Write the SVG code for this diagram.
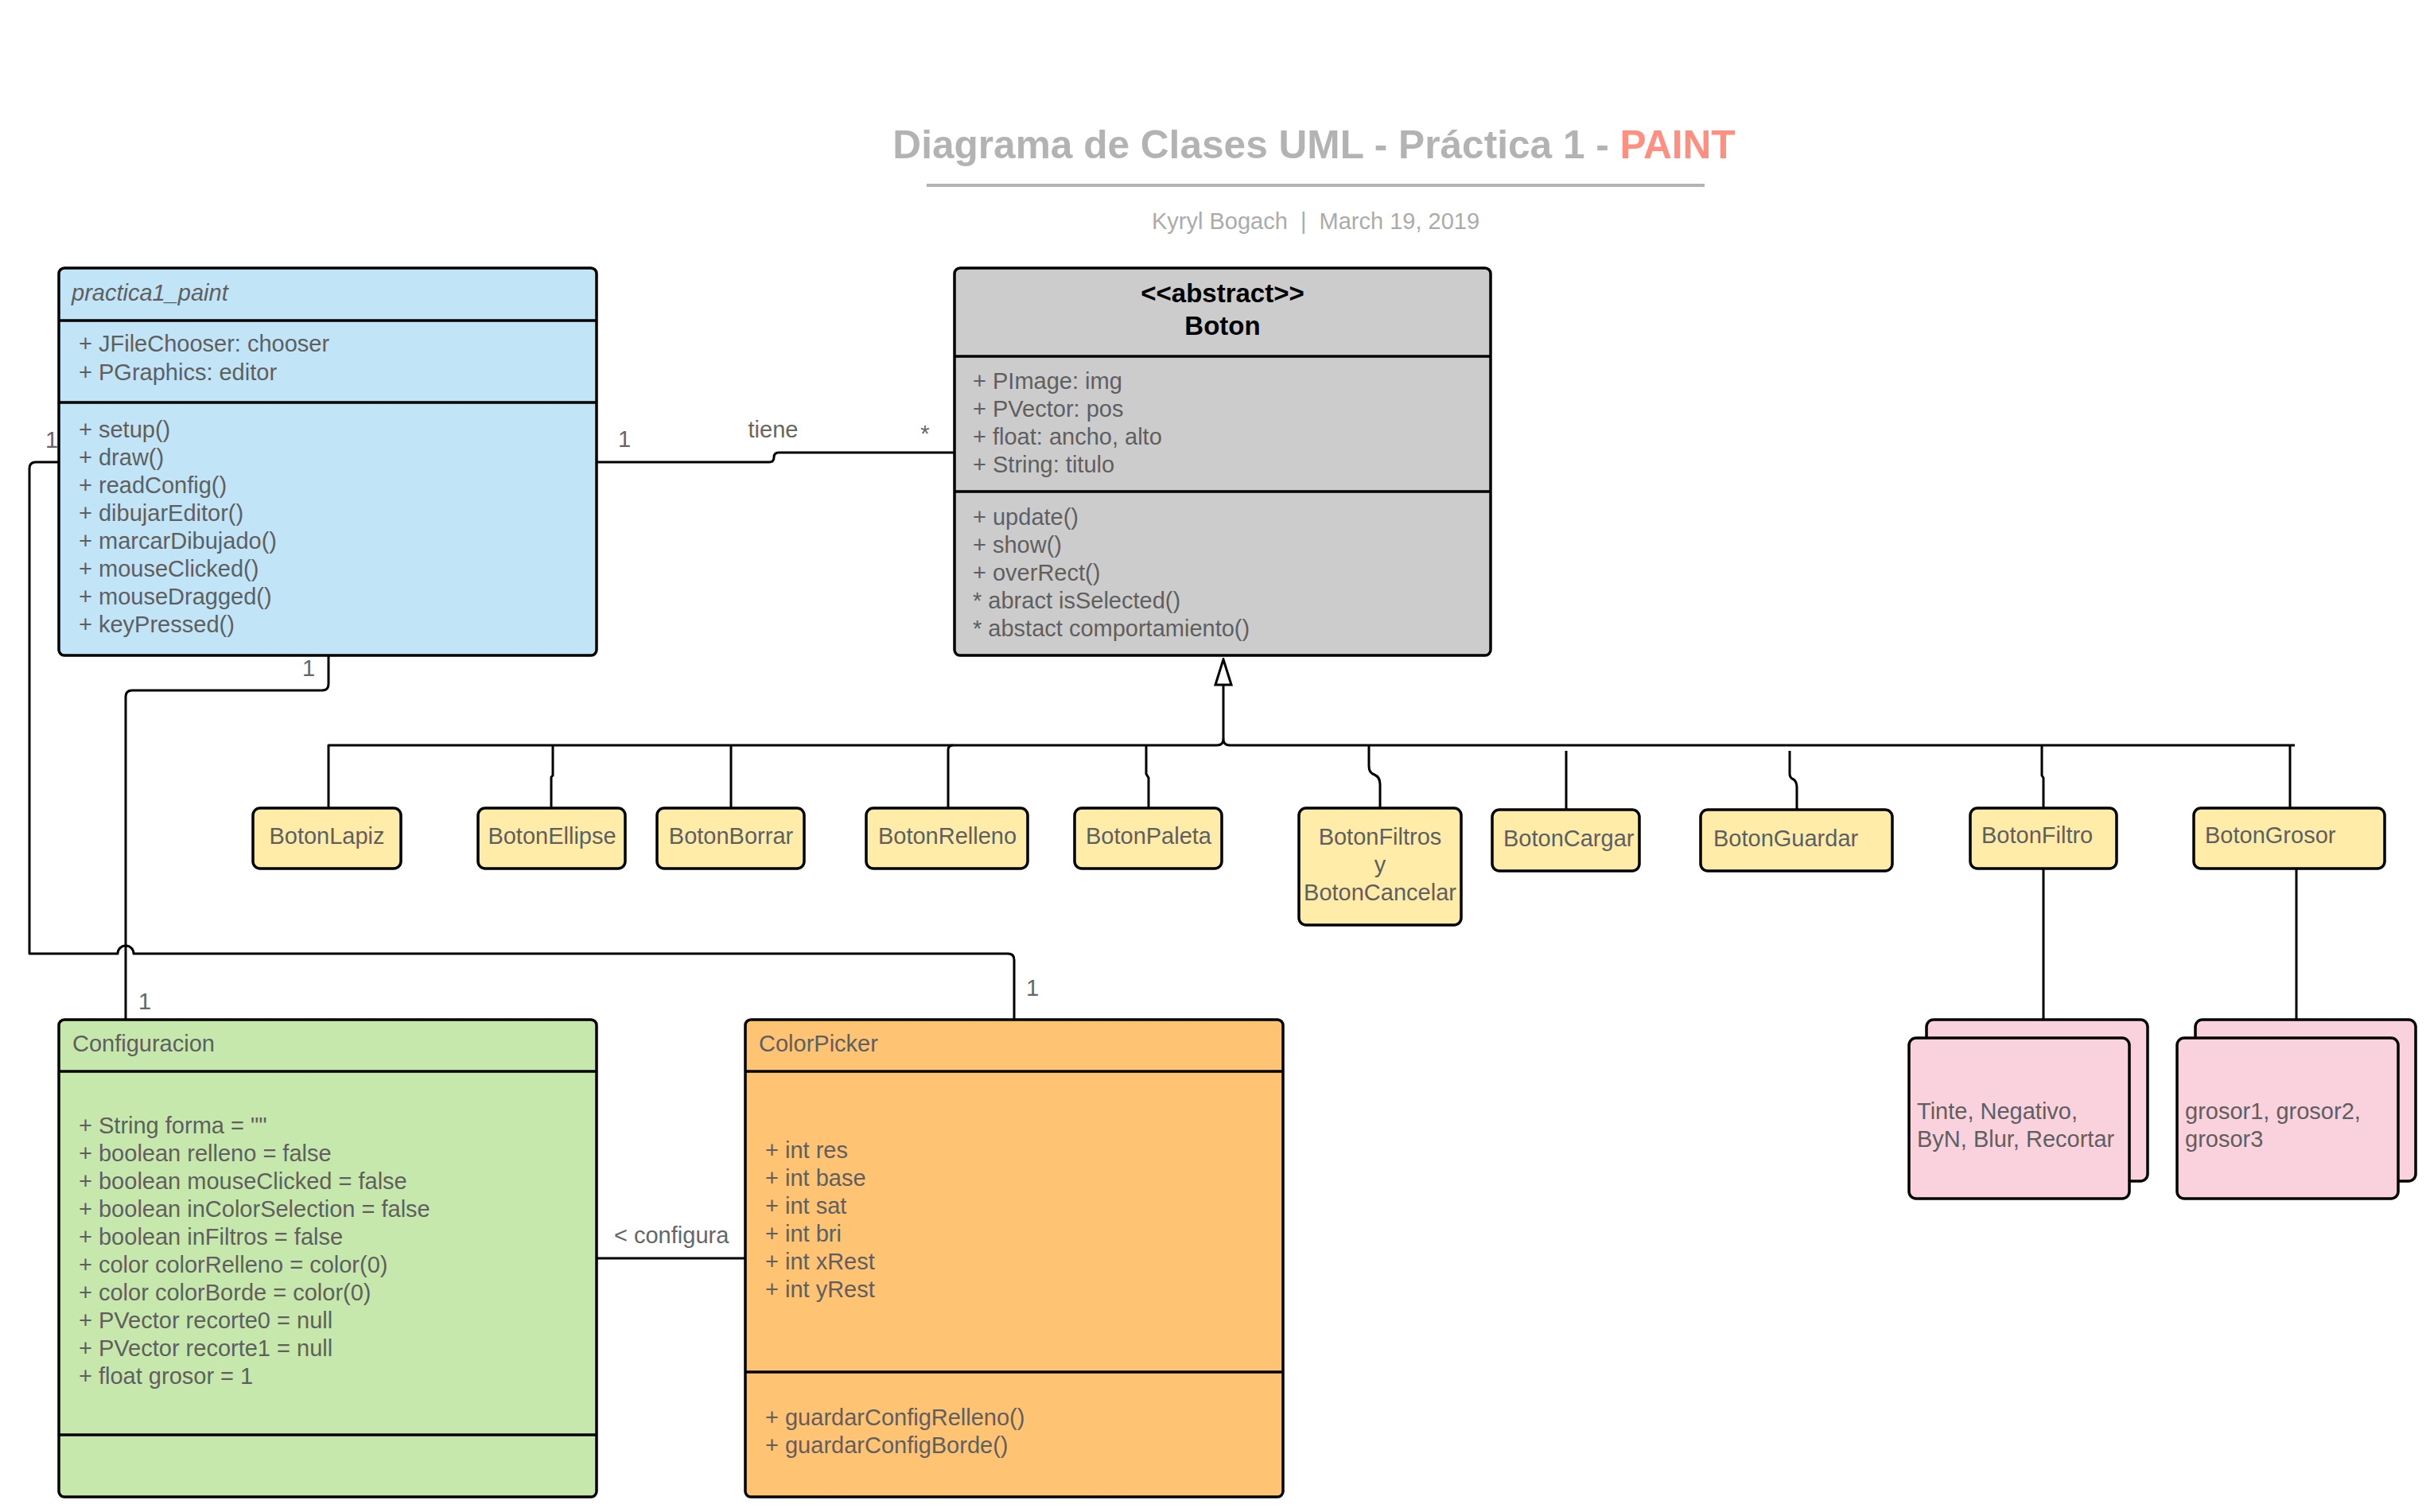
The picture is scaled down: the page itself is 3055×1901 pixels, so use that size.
<svg xmlns="http://www.w3.org/2000/svg" width="3055" height="1901" viewBox="0 0 3055 1901">
<style>
text{font-family:"Liberation Sans",Arial,sans-serif;}
.t{font-size:29px;fill:#5f5f5f;}
.it{font-style:italic;}
.c{text-anchor:middle;}
.bt{font-size:33px;font-weight:bold;fill:#000;text-anchor:middle;}
.lbl{font-size:29px;fill:#666;}
.box{stroke:#000;stroke-width:3.5;}
.div{stroke:#000;stroke-width:3.5;}
.ln{fill:none;stroke:#000;stroke-width:3;stroke-linejoin:round;}
.blue{fill:#c1e4f7;}
.gray{fill:#cccccc;}
.yel{fill:#ffeca9;}
.grn{fill:#c7e8ac;}
.org{fill:#ffc374;}
.pink{fill:#f9d2de;}
</style>
<defs>
<marker id="gen" markerUnits="userSpaceOnUse" viewBox="0 0 36 24" refX="2" refY="12" markerWidth="36" markerHeight="24" orient="auto">
<path d="M2,2 L34,12 L2,22 Z" fill="#fff" stroke="#000" stroke-width="3"/>
</marker>
</defs>
<rect width="3055" height="1901" fill="#fff"/>

<g id="title">
<text x="1652" y="199" text-anchor="middle" font-size="49.6" font-weight="bold" fill="#b3b3b3">Diagrama de Clases UML - Práctica 1 - <tspan fill="#ff8f80">PAINT</tspan></text>
<line x1="1165" y1="233" x2="2143" y2="233" stroke="#b3b3b3" stroke-width="4"/>
<text x="1654" y="288" text-anchor="middle" font-size="29" fill="#ababab" xml:space="preserve">Kyryl Bogach  |  March 19, 2019</text>
</g>

<g id="connectors">
<path class="ln" d="M750 581 H967 Q973 581 973 575 Q973 569 979 569 H1200"/>
<path class="ln" d="M74 581 H45 Q37 581 37 589 V1199 H148 A10 10 0 0 1 168 1199 H1267 Q1275 1199 1275 1207 V1282"/>
<path class="ln" d="M413 824 V860 Q413 868 405 868 H166 Q158 868 158 876 V1282"/>
<path class="ln" d="M750 1582 H937"/>
<path class="ln" d="M413 1016 V937 H1530 Q1538 937 1538 929 Q1538 937 1546 937 H2885"/>
<path class="ln" d="M1538 929 V861" marker-end="url(#gen)"/>
<path class="ln" d="M695 937 V975 L693 977 V1016"/>
<path class="ln" d="M919 937 V1016"/>
<path class="ln" d="M1192 1016 V943 Q1192 937 1198 937"/>
<path class="ln" d="M1441 937 V973 L1444 978 V1016"/>
<path class="ln" d="M1721 937 V963 Q1721 972 1728 974 Q1735 977 1735 986 V1016"/>
<path class="ln" d="M1969 944 V1018"/>
<path class="ln" d="M2250 944 V973 Q2250 978 2255 980 Q2259 983 2259 990 V1018"/>
<path class="ln" d="M2567 937 V975 L2569 978 V1016"/>
<path class="ln" d="M2879 937 V1016"/>
<path class="ln" d="M2569 1092 V1282"/>
<path class="ln" d="M2887 1092 V1282"/>
<text class="lbl" x="65" y="563" text-anchor="middle">1</text>
<text class="lbl" x="785" y="562" text-anchor="middle">1</text>
<text class="lbl" x="972" y="550" text-anchor="middle">tiene</text>
<text class="lbl" x="1163" y="555" text-anchor="middle">*</text>
<text class="lbl" x="388" y="850" text-anchor="middle">1</text>
<text class="lbl" x="182" y="1269" text-anchor="middle">1</text>
<text class="lbl" x="1298" y="1252" text-anchor="middle">1</text>
<text class="lbl" x="772" y="1563">&lt; configura</text>
</g>

<g id="practica1_paint">
<rect class="box blue" x="74" y="337" width="676" height="487" rx="7"/>
<line class="div" x1="74" y1="403" x2="750" y2="403"/>
<line class="div" x1="74" y1="506" x2="750" y2="506"/>
<text class="t it" x="90" y="378">practica1_paint</text>
<text class="t" x="99" y="442">+ JFileChooser: chooser</text>
<text class="t" x="99" y="478">+ PGraphics: editor</text>
<text class="t" x="99" y="550">+ setup()</text>
<text class="t" x="99" y="585">+ draw()</text>
<text class="t" x="99" y="620">+ readConfig()</text>
<text class="t" x="99" y="655">+ dibujarEditor()</text>
<text class="t" x="99" y="690">+ marcarDibujado()</text>
<text class="t" x="99" y="725">+ mouseClicked()</text>
<text class="t" x="99" y="760">+ mouseDragged()</text>
<text class="t" x="99" y="795">+ keyPressed()</text>
</g>

<g id="Boton">
<rect class="box gray" x="1200" y="337" width="674" height="487" rx="7"/>
<line class="div" x1="1200" y1="448" x2="1874" y2="448"/>
<line class="div" x1="1200" y1="618" x2="1874" y2="618"/>
<text class="bt" x="1537" y="380">&lt;&lt;abstract&gt;&gt;</text>
<text class="bt" x="1537" y="421">Boton</text>
<text class="t" x="1223" y="489">+ PImage: img</text>
<text class="t" x="1223" y="524">+ PVector: pos</text>
<text class="t" x="1223" y="559">+ float: ancho, alto</text>
<text class="t" x="1223" y="594">+ String: titulo</text>
<text class="t" x="1223" y="660">+ update()</text>
<text class="t" x="1223" y="695">+ show()</text>
<text class="t" x="1223" y="730">+ overRect()</text>
<text class="t" x="1223" y="765">* abract isSelected()</text>
<text class="t" x="1223" y="800">* abstact comportamiento()</text>
</g>

<g id="BotonLapiz">
<rect class="box yel" x="318" y="1016" width="186" height="76" rx="9"/>
<text class="t c" x="411" y="1061">BotonLapiz</text>
</g>
<g id="BotonEllipse">
<rect class="box yel" x="601" y="1016" width="185" height="76" rx="9"/>
<text class="t c" x="694" y="1061">BotonEllipse</text>
</g>
<g id="BotonBorrar">
<rect class="box yel" x="826" y="1016" width="185" height="76" rx="9"/>
<text class="t c" x="919" y="1061">BotonBorrar</text>
</g>
<g id="BotonRelleno">
<rect class="box yel" x="1089" y="1016" width="203" height="76" rx="9"/>
<text class="t c" x="1191" y="1061">BotonRelleno</text>
</g>
<g id="BotonPaleta">
<rect class="box yel" x="1351" y="1016" width="185" height="76" rx="9"/>
<text class="t c" x="1444" y="1061">BotonPaleta</text>
</g>
<g id="BotonFiltrosYCancelar">
<rect class="box yel" x="1633" y="1016" width="204" height="147" rx="9"/>
<text class="t c" x="1735" y="1062">BotonFiltros</text>
<text class="t c" x="1735" y="1097">y</text>
<text class="t c" x="1735" y="1132">BotonCancelar</text>
</g>
<g id="BotonCargar">
<rect class="box yel" x="1876" y="1018" width="185" height="77" rx="9"/>
<text class="t" x="1890" y="1064">BotonCargar</text>
</g>
<g id="BotonGuardar">
<rect class="box yel" x="2138" y="1018" width="241" height="77" rx="9"/>
<text class="t" x="2154" y="1064">BotonGuardar</text>
</g>
<g id="BotonFiltro">
<rect class="box yel" x="2477" y="1016" width="184" height="76" rx="9"/>
<text class="t" x="2491" y="1060">BotonFiltro</text>
</g>
<g id="BotonGrosor">
<rect class="box yel" x="2758" y="1016" width="240" height="76" rx="9"/>
<text class="t" x="2772" y="1060">BotonGrosor</text>
</g>

<g id="Filtros">
<rect class="box pink" x="2422" y="1282" width="278" height="203" rx="9"/>
<rect class="box pink" x="2400" y="1305" width="277" height="202" rx="9"/>
<text class="t" x="2410" y="1407">Tinte, Negativo,</text>
<text class="t" x="2410" y="1442">ByN, Blur, Recortar</text>
</g>
<g id="Grosores">
<rect class="box pink" x="2760" y="1282" width="277" height="203" rx="9"/>
<rect class="box pink" x="2737" y="1305" width="278" height="202" rx="9"/>
<text class="t" x="2747" y="1407">grosor1, grosor2,</text>
<text class="t" x="2747" y="1442">grosor3</text>
</g>

<g id="Configuracion">
<rect class="box grn" x="74" y="1282" width="676" height="600" rx="7"/>
<line class="div" x1="74" y1="1347" x2="750" y2="1347"/>
<line class="div" x1="74" y1="1804" x2="750" y2="1804"/>
<text class="t" x="91" y="1322">Configuracion</text>
<text class="t" x="99" y="1425">+ String forma = ""</text>
<text class="t" x="99" y="1460">+ boolean relleno = false</text>
<text class="t" x="99" y="1495">+ boolean mouseClicked = false</text>
<text class="t" x="99" y="1530">+ boolean inColorSelection = false</text>
<text class="t" x="99" y="1565">+ boolean inFiltros = false</text>
<text class="t" x="99" y="1600">+ color colorRelleno = color(0)</text>
<text class="t" x="99" y="1635">+ color colorBorde = color(0)</text>
<text class="t" x="99" y="1670">+ PVector recorte0 = null</text>
<text class="t" x="99" y="1705">+ PVector recorte1 = null</text>
<text class="t" x="99" y="1740">+ float grosor = 1</text>
</g>

<g id="ColorPicker">
<rect class="box org" x="937" y="1282" width="676" height="600" rx="7"/>
<line class="div" x1="937" y1="1347" x2="1613" y2="1347"/>
<line class="div" x1="937" y1="1725" x2="1613" y2="1725"/>
<text class="t" x="954" y="1322">ColorPicker</text>
<text class="t" x="962" y="1456">+ int res</text>
<text class="t" x="962" y="1491">+ int base</text>
<text class="t" x="962" y="1526">+ int sat</text>
<text class="t" x="962" y="1561">+ int bri</text>
<text class="t" x="962" y="1596">+ int xRest</text>
<text class="t" x="962" y="1631">+ int yRest</text>
<text class="t" x="962" y="1792">+ guardarConfigRelleno()</text>
<text class="t" x="962" y="1827">+ guardarConfigBorde()</text>
</g>
</svg>
